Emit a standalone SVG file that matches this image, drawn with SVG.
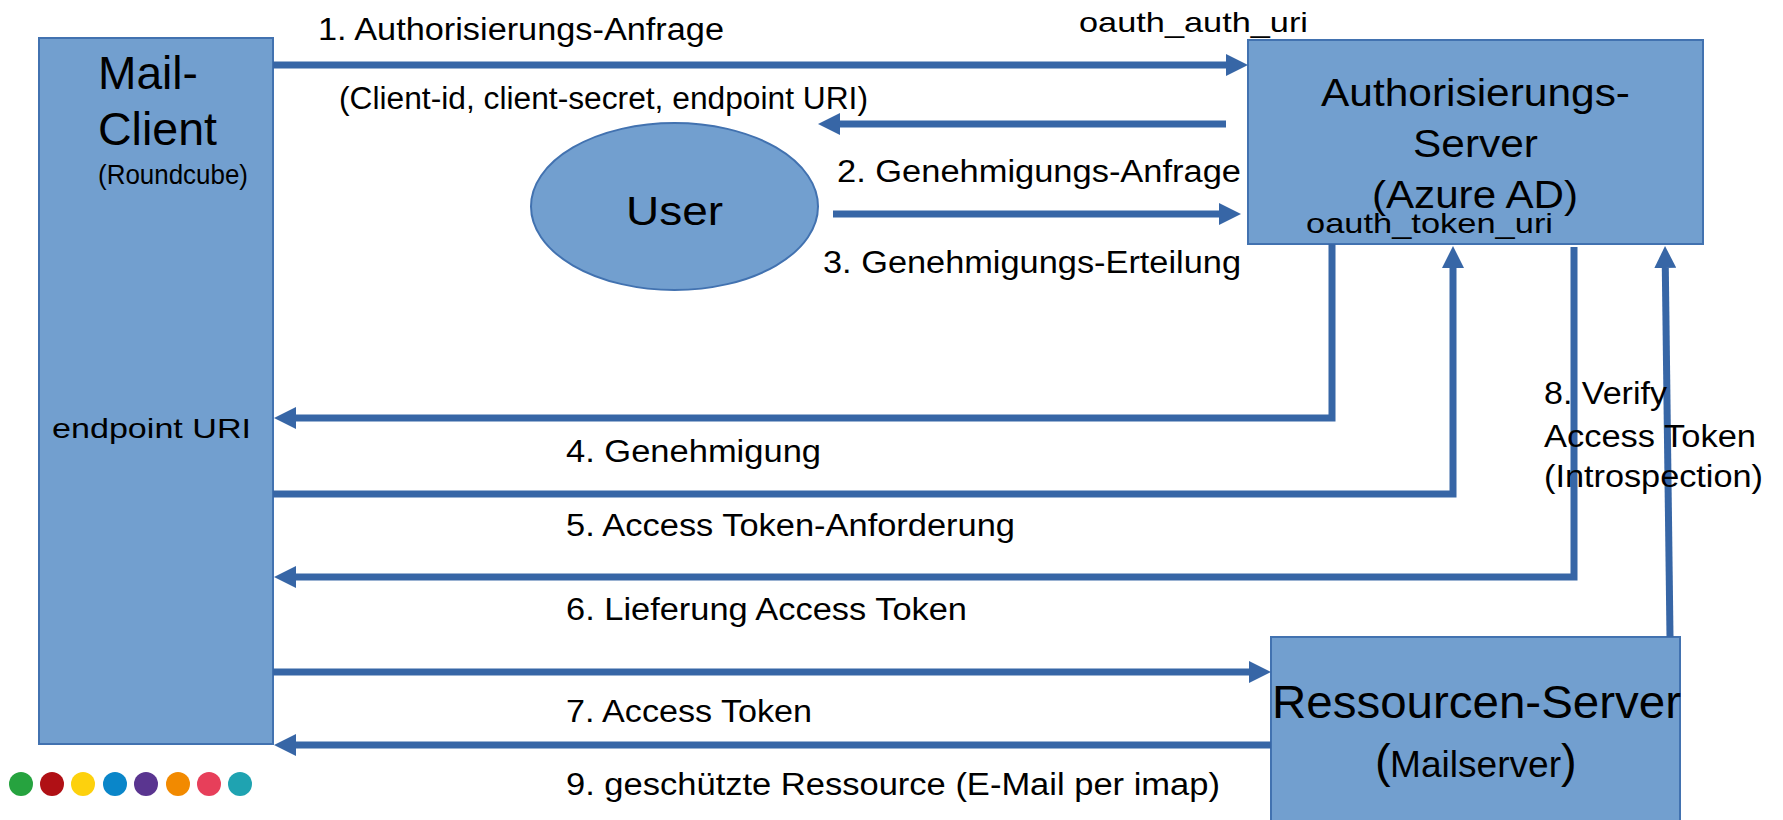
<svg xmlns="http://www.w3.org/2000/svg" width="1783" height="820" viewBox="0 0 1783 820">
  <style>
    .box { fill: #729fcf; stroke: #4272b0; stroke-width: 2; }
    .conn { fill: none; stroke: #3766a6; stroke-width: 7; stroke-linejoin: miter; }
    text { font-family: "Liberation Sans", Arial, sans-serif; fill: #000; }
    .lbl { font-size: 31px; }
    .small { font-size: 28px; }
  </style>
  <defs>
    <marker id="ah" viewBox="0 0 22 22" markerWidth="22" markerHeight="22" markerUnits="userSpaceOnUse" refX="0" refY="11" orient="auto">
      <path d="M0,0 L22,11 L0,22 z" fill="#3766a6"/>
    </marker>
  </defs>
  <rect width="1783" height="820" fill="#ffffff"/>

  <g id="mail-client">
    <rect class="box" x="39" y="38" width="234" height="706"/>
    <text x="98" y="89" font-size="46" textLength="100" lengthAdjust="spacingAndGlyphs">Mail-</text>
    <text x="98" y="145" font-size="46" textLength="119" lengthAdjust="spacingAndGlyphs">Client</text>
    <text x="98" y="184" font-size="27" textLength="150" lengthAdjust="spacingAndGlyphs">(Roundcube)</text>
    <text x="52" y="438" font-size="28" textLength="199" lengthAdjust="spacingAndGlyphs">endpoint URI</text>
  </g>

  <g id="user">
    <ellipse class="box" cx="674.5" cy="206.5" rx="143.5" ry="83.5"/>
    <text x="626" y="225" font-size="40" textLength="97" lengthAdjust="spacingAndGlyphs">User</text>
  </g>

  <g id="auth-server">
    <rect class="box" x="1248" y="40" width="455" height="204"/>
    <text x="1321" y="106" font-size="39" textLength="309" lengthAdjust="spacingAndGlyphs">Authorisierungs-</text>
    <text x="1413" y="157" font-size="39" textLength="125" lengthAdjust="spacingAndGlyphs">Server</text>
    <text x="1372" y="208" font-size="39" textLength="206" lengthAdjust="spacingAndGlyphs">(Azure AD)</text>
  </g>

  <g id="resource-server">
    <rect class="box" x="1271" y="637" width="409" height="200"/>
    <text x="1272" y="718" font-size="46" textLength="409" lengthAdjust="spacingAndGlyphs">Ressourcen-Server</text>
    <text y="777"><tspan x="1375" font-size="47">(</tspan><tspan x="1390" font-size="36" textLength="171" lengthAdjust="spacingAndGlyphs">Mailserver</tspan><tspan x="1561" font-size="47">)</tspan></text>
  </g>

  <g id="connectors">
    <line class="conn" x1="273" y1="65" x2="1226" y2="65" marker-end="url(#ah)"/>
    <line class="conn" x1="1226" y1="124" x2="840" y2="124" marker-end="url(#ah)"/>
    <line class="conn" x1="833" y1="214" x2="1219" y2="214" marker-end="url(#ah)"/>
    <polyline class="conn" points="1332,244 1332,418 296,418" marker-end="url(#ah)"/>
    <polyline class="conn" points="273,494 1453,494 1453,268" marker-end="url(#ah)"/>
    <polyline class="conn" points="1574,247 1574,577 296,577" marker-end="url(#ah)"/>
    <line class="conn" x1="273" y1="672" x2="1249" y2="672" marker-end="url(#ah)"/>
    <line class="conn" x1="1271" y1="745" x2="296" y2="745" marker-end="url(#ah)"/>
    <line class="conn" x1="1670" y1="637" x2="1665.3" y2="268" marker-end="url(#ah)"/>
  </g>

  <g id="labels">
    <text class="small" x="1079" y="32" textLength="229" lengthAdjust="spacingAndGlyphs">oauth_auth_uri</text>
    <text class="small" x="1306" y="233" textLength="247" lengthAdjust="spacingAndGlyphs">oauth_token_uri</text>
    <text class="lbl" x="318" y="40" textLength="406" lengthAdjust="spacingAndGlyphs">1. Authorisierungs-Anfrage</text>
    <text class="lbl" x="339" y="109" textLength="529" lengthAdjust="spacingAndGlyphs">(Client-id, client-secret, endpoint URI)</text>
    <text class="lbl" x="837" y="182" textLength="404" lengthAdjust="spacingAndGlyphs">2. Genehmigungs-Anfrage</text>
    <text class="lbl" x="823" y="273" textLength="418" lengthAdjust="spacingAndGlyphs">3. Genehmigungs-Erteilung</text>
    <text class="lbl" x="566" y="462" textLength="255" lengthAdjust="spacingAndGlyphs">4. Genehmigung</text>
    <text class="lbl" x="566" y="536" textLength="449" lengthAdjust="spacingAndGlyphs">5. Access Token-Anforderung</text>
    <text class="lbl" x="566" y="620" textLength="401" lengthAdjust="spacingAndGlyphs">6. Lieferung Access Token</text>
    <text class="lbl" x="566" y="722" textLength="246" lengthAdjust="spacingAndGlyphs">7. Access Token</text>
    <text class="lbl" x="566" y="795" textLength="654" lengthAdjust="spacingAndGlyphs">9. geschützte Ressource (E-Mail per imap)</text>
    <text class="lbl" x="1544" y="404" textLength="123" lengthAdjust="spacingAndGlyphs">8. Verify</text>
    <text class="lbl" x="1544" y="447" textLength="212" lengthAdjust="spacingAndGlyphs">Access Token</text>
    <text class="lbl" x="1544" y="487" textLength="219" lengthAdjust="spacingAndGlyphs">(Introspection)</text>
  </g>

  <g id="dots">
    <circle cx="21" cy="784" r="12" fill="#26a33f"/>
    <circle cx="52" cy="784" r="12" fill="#b01015"/>
    <circle cx="83" cy="784" r="12" fill="#fdd10d"/>
    <circle cx="115" cy="784" r="12" fill="#0a86c9"/>
    <circle cx="146" cy="784" r="12" fill="#5a3590"/>
    <circle cx="178" cy="784" r="12" fill="#f28a00"/>
    <circle cx="209" cy="784" r="12" fill="#e73f5a"/>
    <circle cx="240" cy="784" r="12" fill="#1fa3b1"/>
  </g>
</svg>
